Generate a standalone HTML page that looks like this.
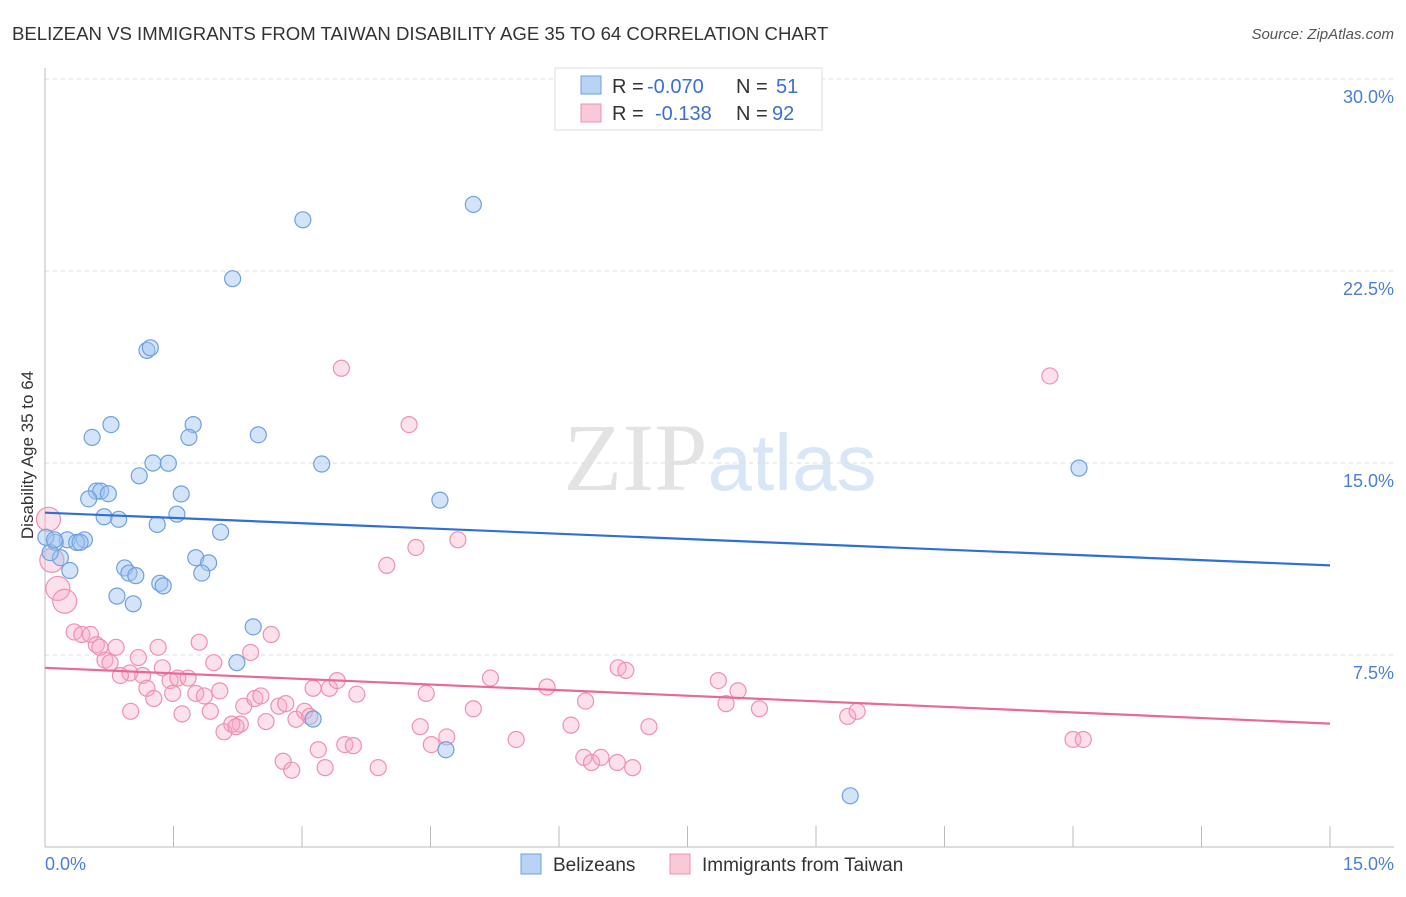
<!DOCTYPE html>
<html><head><meta charset="utf-8">
<style>
body{margin:0;background:#fff;font-family:"Liberation Sans",sans-serif;}
svg text{font-family:"Liberation Sans",sans-serif;}
</style></head>
<body>
<svg id="chart" width="1406" height="892" xmlns="http://www.w3.org/2000/svg">
<text x="12" y="40" font-size="18.6" fill="#333">BELIZEAN VS IMMIGRANTS FROM TAIWAN DISABILITY AGE 35 TO 64 CORRELATION CHART</text>
<text x="1394" y="39" font-size="15" fill="#555" text-anchor="end" font-style="italic">Source: ZipAtlas.com</text>
<text x="720" y="490" font-size="96" text-anchor="middle" fill="#ddd" opacity="0.8"><tspan font-family="Liberation Serif">ZIP</tspan><tspan fill="#cfe0f5" font-size="80">atlas</tspan></text>
<g id="grid"></g>
<g id="axes"></g>
<text transform="translate(33,455) rotate(-90)" font-size="17" fill="#333" text-anchor="middle">Disability Age 35 to 64</text>
<text x="45" y="870" font-size="18" fill="#4a7fd4">0.0%</text>
<text x="1394" y="870" font-size="18" fill="#4a7fd4" text-anchor="end">15.0%</text>
<g id="pts"></g>
<g id="lines"></g>
<g font-size="20">
<rect x="555" y="68" width="267" height="62" fill="#fff" stroke="#ddd"/>
<rect x="581" y="76" width="20" height="18" fill="#b8d3f5" stroke="#6fa0e0"/>
<rect x="581" y="104" width="20" height="18" fill="#f9c9d8" stroke="#f090b0"/>
<text x="612" y="93" fill="#333">R =</text>
<text x="647" y="93" fill="#3a70d0">-0.070</text>
<text x="736" y="93" fill="#333">N =</text>
<text x="776" y="93" fill="#3a70d0">51</text>
<text x="612" y="120" fill="#333">R =</text>
<text x="655" y="120" fill="#3a70d0">-0.138</text>
<text x="736" y="120" fill="#333">N =</text>
<text x="772" y="120" fill="#3a70d0">92</text>
</g>
<g>
<rect x="521" y="854" width="20" height="20" fill="#b8d3f5" stroke="#6fa0e0"/>
<text x="553" y="871" font-size="19" fill="#333">Belizeans</text>
<rect x="670" y="854" width="20" height="20" fill="#f9c9d8" stroke="#f090b0"/>
<text x="702" y="871" font-size="19" fill="#333">Immigrants from Taiwan</text>
</g>
</svg>
<script>
const yTicks=[7.5,15,22.5,30];
const yTickLabels=["7.5%","15.0%","22.5%","30.0%"];
const xTicks=[0,1.5,3,4.5,6,7.5,9,10.5,12,13.5,15];
const blueX=[3.01,5.0,2.19,1.19,1.23,0.77,0.55,1.73,1.68,2.49,1.26,1.44,3.23,1.1,0.6,0.65,0.74,1.59,0.51,4.61,0.69,0.86,1.54,1.31,2.05,0.26,0.46,0.12,0.37,0.41,0.01,0.18,0.06,1.76,1.91,0.93,0.98,1.06,1.83,0.29,1.34,1.38,0.84,1.03,2.43,2.24,3.13,4.68,9.4,12.07,0.11];
const blueY=[24.5,25.1,22.2,19.4,19.5,16.5,16.0,16.5,16.0,16.1,15.0,14.99,14.96,14.5,13.9,13.9,13.8,13.79,13.6,13.55,12.9,12.8,13.0,12.6,12.3,12.0,12.0,11.9,11.9,11.9,12.1,11.3,11.5,11.3,11.1,10.9,10.7,10.6,10.7,10.8,10.3,10.2,9.8,9.5,8.6,7.2,5.0,3.8,2.0,14.8,12.0];
const pinkX=[3.46,11.73,4.25,4.33,4.82,3.99,0.15,0.23,0.04,0.08,0.34,0.43,0.53,0.6,0.64,0.7,0.76,0.83,0.99,0.88,1.09,1.14,1.19,1.27,1.32,1.37,1.46,1.49,1.55,1.67,1.76,1.86,1.93,1.97,2.04,1.0,1.6,1.80,2.40,2.64,2.32,2.28,2.18,2.09,2.23,2.45,2.52,2.58,2.73,2.81,2.93,3.03,3.09,3.13,3.32,3.41,3.64,2.78,2.88,3.19,3.27,3.50,3.60,3.89,4.38,4.45,4.51,4.69,5.0,5.2,5.5,5.86,6.14,6.31,6.29,6.38,6.49,6.68,6.86,6.69,6.78,7.05,7.86,7.95,8.09,8.34,9.37,9.48,12.0,12.12];
const pinkY=[18.7,18.4,16.5,11.7,12.0,11.0,10.1,9.6,12.8,11.2,8.4,8.3,8.3,7.9,7.8,7.3,7.2,7.8,6.8,6.7,7.4,6.7,6.2,5.8,7.8,7.0,6.5,6.0,6.6,6.6,6.0,5.9,5.3,7.2,6.1,5.3,5.2,8.0,7.6,8.3,5.5,4.8,4.8,4.5,4.7,5.8,5.9,4.9,5.5,5.6,4.99,5.3,5.1,6.2,6.2,6.5,5.97,3.35,3.0,3.8,3.1,4.0,3.96,3.1,4.7,6.0,4.0,4.3,5.4,6.6,4.2,6.25,4.76,5.7,3.5,3.3,3.5,3.3,3.1,7.0,6.9,4.7,6.5,5.6,6.1,5.4,5.1,5.3,4.2,4.2];
const blueTrend=[13.06,11.0];
const pinkTrend=[7.0,4.82];
const X0=45,X1=1330,Y0=847;
const sx=v=>X0+v*(X1-X0)/15;
const sy=v=>Y0-v*25.6;
const NS="http://www.w3.org/2000/svg";
function mk(tag,attrs,parent){const e=document.createElementNS(NS,tag);for(const k in attrs)e.setAttribute(k,attrs[k]);parent.appendChild(e);return e;}
const grid=document.getElementById('grid'),axes=document.getElementById('axes');
yTicks.forEach((t,i)=>{
 const l=mk('line',{x1:X0,x2:1394,y1:sy(t),y2:sy(t),stroke:'#ddd','stroke-dasharray':'4 4'},grid);
 
 
 const tx=mk('text',{x:1394,y:sy(t)+24,'font-size':18,fill:'#4a7fd4','text-anchor':'end'},grid);
 tx.textContent=yTickLabels[i];
 
 
});
const ax=mk('line',{x1:X0,x2:X0,y1:68,y2:Y0,stroke:'#bbb'},axes);


const bx=mk('line',{x1:X0,x2:1394,y1:Y0,y2:Y0,stroke:'#bbb'},axes);


xTicks.forEach(t=>{
 const l=mk('line',{x1:sx(t),x2:sx(t),y1:826,y2:Y0,stroke:'#bbb'},axes);
 
 
});
const pts=document.getElementById('pts');
pinkX.forEach((x,i)=>{
 const big=x<0.3&&pinkY[i]>9;
 const c=mk('circle',{cx:sx(x),cy:sy(pinkY[i]),r:big?12:8,fill:'rgba(245,170,195,0.35)',stroke:'#f090b0','stroke-width':1.2},pts);
 
 
});
blueX.forEach((x,i)=>{
 const c=mk('circle',{cx:sx(x),cy:sy(blueY[i]),r:8,fill:'rgba(160,196,240,0.45)',stroke:'#6fa0e0','stroke-width':1.2},pts);
 
 
});
const lines=document.getElementById('lines');
const bl=mk('line',{x1:sx(0),x2:sx(15),y1:sy(blueTrend[0]),y2:sy(blueTrend[1]),stroke:'#2f6fd6','stroke-width':2.2},lines);


const pl=mk('line',{x1:sx(0),x2:sx(15),y1:sy(pinkTrend[0]),y2:sy(pinkTrend[1]),stroke:'#e8689a','stroke-width':2.2},lines);


</script>
</body></html>
